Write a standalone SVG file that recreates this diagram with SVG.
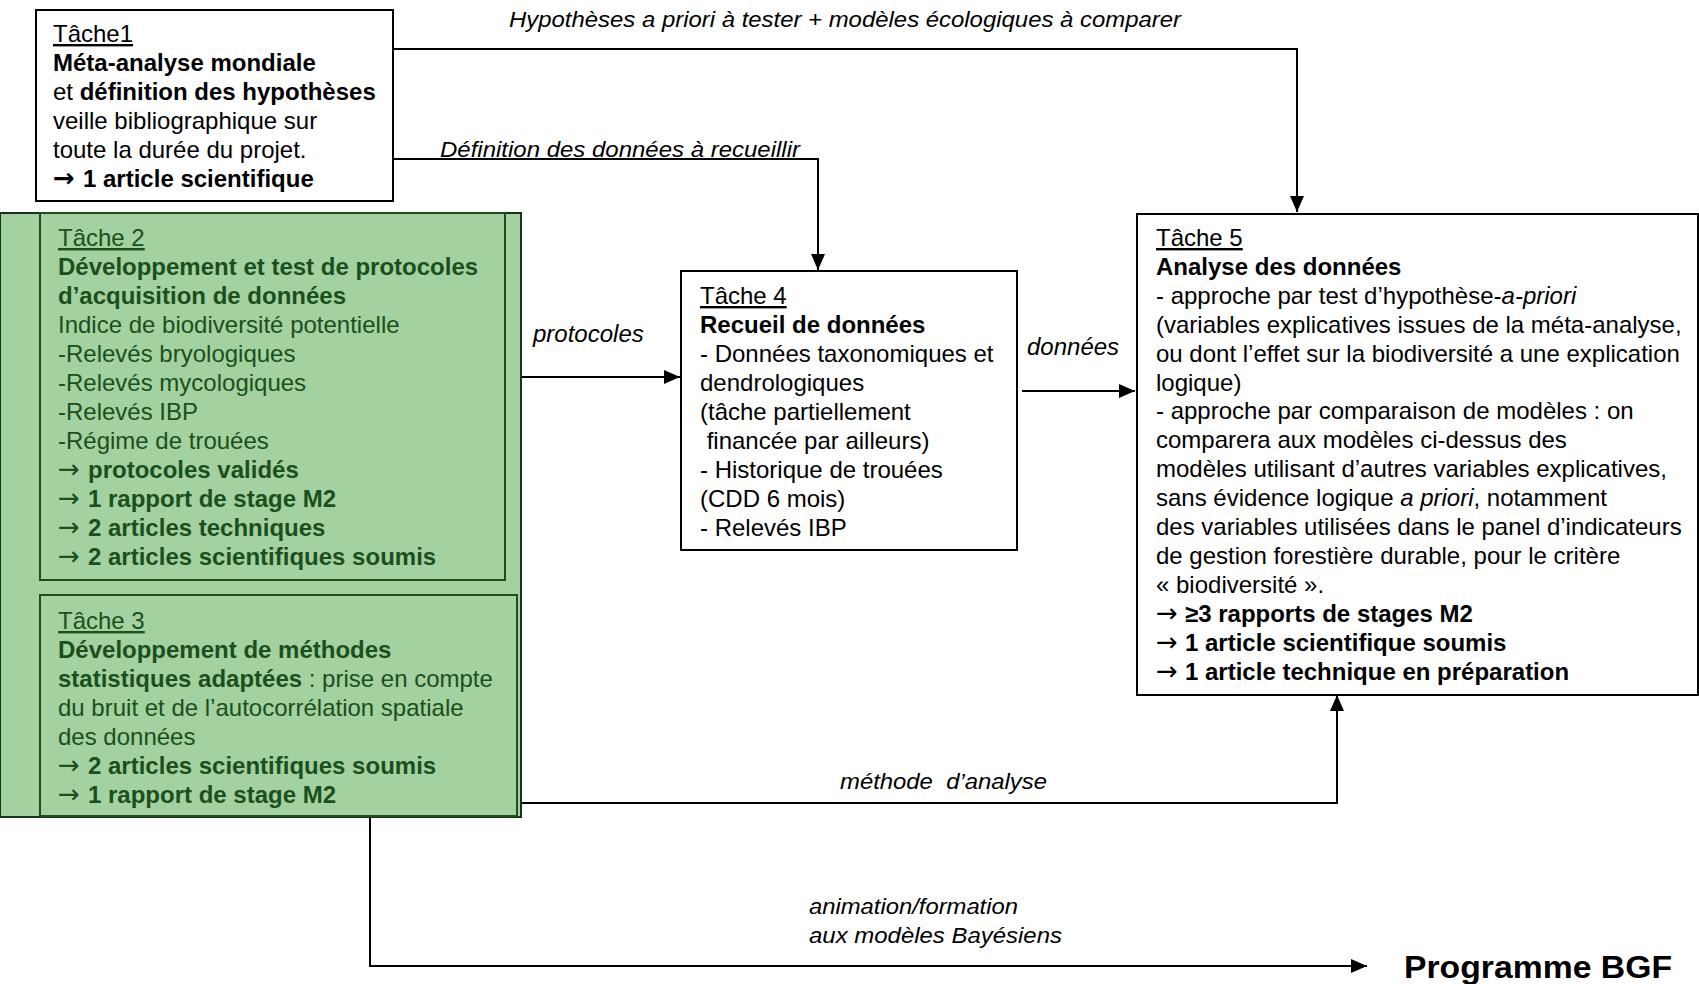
<svg xmlns="http://www.w3.org/2000/svg" width="1699" height="984" viewBox="0 0 1699 984">
<style>
text{font-family:"Liberation Sans",Arial,sans-serif;font-size:24px;fill:#000}
.b{font-weight:bold}
.u{text-decoration:underline}
.i{font-style:italic}
.g{fill:#1b4f1b}
.ar{font-family:"DejaVu Sans",sans-serif;font-size:26px;font-weight:normal}
.arb{font-family:"DejaVu Sans",sans-serif;font-size:26px;font-weight:bold}
.lbl{font-style:italic;font-size:22px}
.box{fill:#fff;stroke:#000;stroke-width:2}
.gbox{fill:#a3d1a0;stroke:#1e4d1e;stroke-width:2}
.con{fill:none;stroke:#000;stroke-width:2}
</style>
<defs>
<marker id="ah" viewBox="0 0 16 14" refX="16" refY="7" markerWidth="16" markerHeight="14" markerUnits="userSpaceOnUse" orient="auto">
<path d="M0,0 L16,7 L0,14 z" fill="#000"/>
</marker>
</defs>

<g id="connectors">
<path class="con" d="M393,49 H1297 V212" marker-end="url(#ah)"/>
<path class="con" d="M393,159 H818 V270" marker-end="url(#ah)"/>
<path class="con" d="M505,377 H680" marker-end="url(#ah)"/>
<path class="con" d="M1022,391 H1135" marker-end="url(#ah)"/>
<path class="con" d="M521,803 H1337 V695" marker-end="url(#ah)"/>
<path class="con" d="M370,817 V966 H1367" marker-end="url(#ah)"/>
<text class="lbl" x="509" y="27" textLength="672" lengthAdjust="spacingAndGlyphs">Hypothèses a priori à tester + modèles écologiques à comparer</text>
<text class="lbl" x="440" y="157" textLength="360" lengthAdjust="spacingAndGlyphs">Définition des données à recueillir</text>
<text class="i" x="533" y="342">protocoles</text>
<text class="i" x="1027" y="355">données</text>
<text class="lbl" x="840" y="789" textLength="207" lengthAdjust="spacingAndGlyphs" xml:space="preserve">méthode  d’analyse</text>
<text class="lbl" x="809" y="914" textLength="209" lengthAdjust="spacingAndGlyphs">animation/formation</text>
<text class="lbl" x="809" y="943" textLength="253" lengthAdjust="spacingAndGlyphs">aux modèles Bayésiens</text>
</g>

<g id="tache1">
<rect class="box" x="36" y="10" width="357" height="191"/>
<text x="53" y="42" class="u">Tâche1</text>
<text x="53" y="71" class="b">Méta-analyse mondiale</text>
<text x="53" y="100">et <tspan class="b">définition des hypothèses</tspan></text>
<text x="53" y="129">veille bibliographique sur</text>
<text x="53" y="158">toute la durée du projet.</text>
<text x="53" y="187"><tspan class="arb">→</tspan><tspan x="83" class="b">1 article scientifique</tspan></text>
</g>

<g id="green-group">
<rect class="gbox" x="0" y="213" width="521" height="604" style="stroke:#1a331a"/>
</g>

<g id="tache2">
<rect class="gbox" x="40" y="213" width="465" height="367"/>
<text x="58" y="246" class="g u">Tâche 2</text>
<text x="58" y="275" class="g b">Développement et test de protocoles</text>
<text x="58" y="304" class="g b">d’acquisition de données</text>
<text x="58" y="333" class="g">Indice de biodiversité potentielle</text>
<text x="58" y="362" class="g">-Relevés bryologiques</text>
<text x="58" y="391" class="g">-Relevés mycologiques</text>
<text x="58" y="420" class="g">-Relevés IBP</text>
<text x="58" y="449" class="g">-Régime de trouées</text>
<text x="58" y="478" class="g"><tspan class="ar">→</tspan><tspan x="88" class="b">protocoles validés</tspan></text>
<text x="58" y="507" class="g"><tspan class="ar">→</tspan><tspan x="88" class="b">1 rapport de stage M2</tspan></text>
<text x="58" y="536" class="g"><tspan class="ar">→</tspan><tspan x="88" class="b">2 articles techniques</tspan></text>
<text x="58" y="565" class="g"><tspan class="ar">→</tspan><tspan x="88" class="b">2 articles scientifiques soumis</tspan></text>
</g>

<g id="tache3">
<rect class="gbox" x="40" y="595" width="477" height="221"/>
<text x="58" y="629" class="g u">Tâche 3</text>
<text x="58" y="658" class="g b">Développement de méthodes</text>
<text x="58" y="687" class="g"><tspan class="b">statistiques adaptées</tspan> : prise en compte</text>
<text x="58" y="716" class="g">du bruit et de l’autocorrélation spatiale</text>
<text x="58" y="745" class="g">des données</text>
<text x="58" y="774" class="g"><tspan class="ar">→</tspan><tspan x="88" class="b">2 articles scientifiques soumis</tspan></text>
<text x="58" y="803" class="g"><tspan class="ar">→</tspan><tspan x="88" class="b">1 rapport de stage M2</tspan></text>
</g>

<g id="tache4">
<rect class="box" x="681" y="271" width="336" height="279"/>
<text x="700" y="304" class="u">Tâche 4</text>
<text x="700" y="333" class="b">Recueil de données</text>
<text x="700" y="362">- Données taxonomiques et</text>
<text x="700" y="391">dendrologiques</text>
<text x="700" y="420">(tâche partiellement</text>
<text x="700" y="449" xml:space="preserve"> financée par ailleurs)</text>
<text x="700" y="478">- Historique de trouées</text>
<text x="700" y="507">(CDD 6 mois)</text>
<text x="700" y="536">- Relevés IBP</text>
</g>

<g id="tache5">
<rect class="box" x="1137" y="214" width="561" height="481"/>
<text x="1156" y="246" class="u">Tâche 5</text>
<text x="1156" y="274.9" class="b">Analyse des données</text>
<text x="1156" y="303.8">- approche par test d’hypothèse-<tspan class="i">a-priori</tspan></text>
<text x="1156" y="332.7">(variables explicatives issues de la méta-analyse,</text>
<text x="1156" y="361.6">ou dont l’effet sur la biodiversité a une explication</text>
<text x="1156" y="390.5">logique)</text>
<text x="1156" y="419.4">- approche par comparaison de modèles : on</text>
<text x="1156" y="448.3">comparera aux modèles ci-dessus des</text>
<text x="1156" y="477.2">modèles utilisant d’autres variables explicatives,</text>
<text x="1156" y="506.1">sans évidence logique <tspan class="i">a priori</tspan>, notamment</text>
<text x="1156" y="535">des variables utilisées dans le panel d’indicateurs</text>
<text x="1156" y="563.9">de gestion forestière durable, pour le critère</text>
<text x="1156" y="592.8">« biodiversité ».</text>
<text x="1156" y="621.7"><tspan class="ar">→</tspan><tspan x="1185" class="b">≥3 rapports de stages M2</tspan></text>
<text x="1156" y="650.6"><tspan class="ar">→</tspan><tspan x="1185" class="b">1 article scientifique soumis</tspan></text>
<text x="1156" y="679.5"><tspan class="ar">→</tspan><tspan x="1185" class="b">1 article technique en préparation</tspan></text>
</g>

<g id="programme-bgf">
<text x="1404" y="978" class="b" style="font-size:32px" textLength="268" lengthAdjust="spacingAndGlyphs">Programme BGF</text>
</g>
</svg>
